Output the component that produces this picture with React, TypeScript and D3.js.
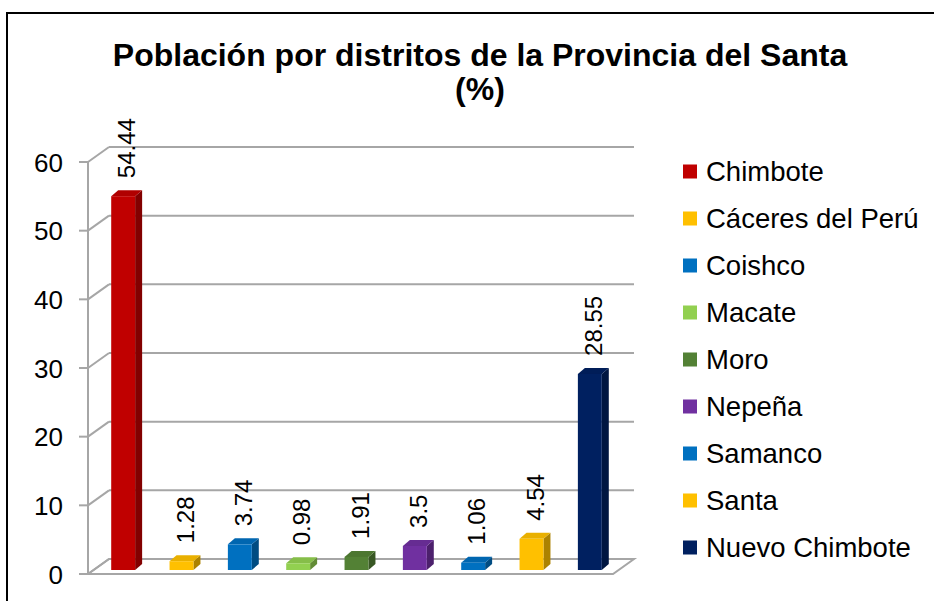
import React from "react";
import * as d3 from "d3";

const categories = ["Chimbote", "Cáceres del Perú", "Coishco", "Macate", "Moro", "Nepeña", "Samanco", "Santa", "Nuevo Chimbote"];
const values = [54.44, 1.28, 3.74, 0.98, 1.91, 3.5, 1.06, 4.54, 28.55];
const valueLabels = ["54.44", "1.28", "3.74", "0.98", "1.91", "3.5", "1.06", "4.54", "28.55"];
const colors = ["#C00000", "#FFC000", "#0070C0", "#92D050", "#538135", "#7030A0", "#0070C0", "#FFC000", "#002060"];
const yTicks = [0, 10, 20, 30, 40, 50, 60];
const titleLines = ["Población por distritos de la Provincia del Santa", "(%)"];

const W = 934;
const H = 601;
const FONT = "'Liberation Sans', Arial, Helvetica, sans-serif";

export default function App() {
  const x = d3.scaleBand<string>().domain(categories).range([88, 613]).padding(0);
  const y = d3.scaleLinear().domain([0, 60]).range([574, 162]);
  const ddx = 21, ddy = -15; // wall depth
  const offX = 6, offY = -4; // bar placement in depth
  const bdx = 7, bdy = -6; // bar depth
  const bw = x.bandwidth() * 0.41;
  const grid = "#a6a6a6";

  const floor = [
    [x.range()[0], y(0)],
    [x.range()[1], y(0)],
    [x.range()[1] + ddx, y(0) + ddy],
    [x.range()[0] + ddx, y(0) + ddy],
  ];

  return (
    <svg width={W} height={H} style={{ position: "absolute", left: 0, top: 0, background: "#fff" }} fontFamily={FONT}>
      {/* outer border */}
      <path d={`M7,${H + 5} L7,13 L${W + 5},13`} fill="none" stroke="#000" strokeWidth={2} />

      {/* title */}
      <text x={480} y={66} textAnchor="middle" fontSize={32} fontWeight="bold" fill="#000">{titleLines[0]}</text>
      <text x={480} y={100} textAnchor="middle" fontSize={32} fontWeight="bold" fill="#000">{titleLines[1]}</text>

      {/* floor */}
      <polygon points={floor.map((p) => p.join(",")).join(" ")} fill="#fff" stroke={grid} strokeWidth={2} />

      {/* gridlines on back wall and side wall diagonals */}
      {yTicks.map((t) => (
        <g key={t}>
          <line x1={x.range()[0]} y1={y(t)} x2={x.range()[0] + ddx} y2={y(t) + ddy} stroke={grid} strokeWidth={2} />
          <line x1={x.range()[0] + ddx} y1={y(t) + ddy} x2={x.range()[1] + ddx} y2={y(t) + ddy} stroke={grid} strokeWidth={2} />
          <line x1={79} y1={y(t)} x2={x.range()[0]} y2={y(t)} stroke={grid} strokeWidth={2} />
          <text x={63} y={y(t) + 9.5} textAnchor="end" fontSize={26} fill="#000">{t}</text>
        </g>
      ))}
      <line x1={x.range()[0]} y1={y(60)} x2={x.range()[0]} y2={y(0)} stroke={grid} strokeWidth={2} />

      {/* bars */}
      {categories.map((c, i) => {
        const cx = (x(c) as number) + x.bandwidth() / 2 + offX;
        const x0 = cx - bw / 2;
        const x1 = cx + bw / 2;
        const yb = y(0) + offY;
        const yt = y(values[i]) + offY;
        const col = d3.color(colors[i])!;
        const side = col.darker(1.1).toString();
        const top = d3.rgb(colors[i]).darker(0.25).toString();
        const lcx = cx + bdx / 2;
        return (
          <g key={c}>
            <polygon points={`${x1},${yb} ${x1 + bdx},${yb + bdy} ${x1 + bdx},${yt + bdy} ${x1},${yt}`} fill={side} />
            <polygon points={`${x0},${yt} ${x1},${yt} ${x1 + bdx},${yt + bdy} ${x0 + bdx},${yt + bdy}`} fill={top} />
            <rect x={x0} y={yt} width={bw} height={yb - yt} fill={colors[i]} />
            <text
              transform={`translate(${lcx + 8.5},${yt - 18}) rotate(-90)`}
              fontSize={24}
              fill="#000"
            >
              {valueLabels[i]}
            </text>
          </g>
        );
      })}

      {/* legend */}
      {categories.map((c, i) => {
        const cy = 171.5 + i * 47;
        return (
          <g key={"lg" + c}>
            <rect x={683} y={cy - 7} width={14} height={14} fill={colors[i]} />
            <text x={706} y={cy + 9.5} fontSize={27.5} fill="#000">{c}</text>
          </g>
        );
      })}
    </svg>
  );
}
